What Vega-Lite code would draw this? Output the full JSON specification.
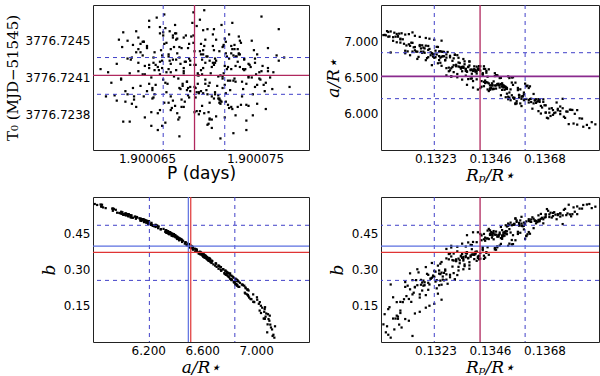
{
"$schema":"https://vega.github.io/schema/vega-lite/v6.json",
"autosize":{"type":"pad"},
"padding":{"left":4,"top":3,"right":0,"bottom":0},
"background":"white",
"config":{"view":{"stroke":"#222","strokeWidth":1},"axis":{"grid":false,"ticks":false,"tickSize":0,"domain":false,"labelFont":"DejaVu Sans","labelFontSize":12,"labelColor":"#000","labelPadding":3,"titleColor":"#000","titleFontWeight":"normal","titlePadding":3},"axisY":{"titlePadding":5}},
"datasets":{"s":[
{"P":1.9000704,"T":3776.72404,"k":0.13385,"a":6.609,"b":0.362},
{"P":1.9000657,"T":3776.72434,"k":0.13540,"a":6.293,"b":0.467},
{"P":1.9000740,"T":3776.72417,"k":0.13210,"a":6.894,"b":0.238},
{"P":1.9000684,"T":3776.72382,"k":0.13468,"a":6.420,"b":0.432},
{"P":1.9000714,"T":3776.72426,"k":0.13680,"a":6.164,"b":0.508},
{"P":1.9000637,"T":3776.72400,"k":0.13325,"a":6.548,"b":0.375},
{"P":1.9000722,"T":3776.72447,"k":0.13090,"a":6.981,"b":0.166},
{"P":1.9000697,"T":3776.72414,"k":0.13435,"a":6.620,"b":0.357},
{"P":1.9000672,"T":3776.72392,"k":0.13595,"a":6.244,"b":0.479},
{"P":1.9000757,"T":3776.72421,"k":0.13270,"a":6.793,"b":0.286},
{"P":1.9000650,"T":3776.72440,"k":0.13500,"a":6.390,"b":0.446},
{"P":1.9000710,"T":3776.72370,"k":0.13160,"a":6.856,"b":0.235},
{"P":1.9000689,"T":3776.72428,"k":0.13750,"a":5.995,"b":0.532},
{"P":1.9000730,"T":3776.72407,"k":0.13400,"a":6.580,"b":0.373},
{"P":1.9000622,"T":3776.72423,"k":0.13560,"a":6.216,"b":0.488},
{"P":1.9000719,"T":3776.72387,"k":0.13350,"a":6.635,"b":0.343},
{"P":1.9000677,"T":3776.72452,"k":0.13630,"a":6.207,"b":0.497},
{"P":1.9000744,"T":3776.72410,"k":0.13240,"a":6.818,"b":0.256},
{"P":1.9000664,"T":3776.72431,"k":0.13425,"a":6.450,"b":0.421},
{"P":1.9000700,"T":3776.72397,"k":0.13810,"a":5.999,"b":0.539},
{"P":1.9000644,"T":3776.72442,"k":0.13300,"a":6.627,"b":0.354},
{"P":1.9000707,"T":3776.72402,"k":0.13485,"a":6.532,"b":0.382},
{"P":1.9000725,"T":3776.72384,"k":0.13130,"a":6.807,"b":0.284},
{"P":1.9000680,"T":3776.72429,"k":0.13650,"a":6.200,"b":0.491},
{"P":1.9000767,"T":3776.72415,"k":0.13375,"a":6.721,"b":0.303},
{"P":1.9000667,"T":3776.72457,"k":0.13520,"a":6.380,"b":0.440},
{"P":1.9000694,"T":3776.72377,"k":0.13040,"a":7.063,"b":0.136},
{"P":1.9000736,"T":3776.72420,"k":0.13580,"a":6.259,"b":0.482},
{"P":1.9000632,"T":3776.72394,"k":0.13410,"a":6.609,"b":0.354},
{"P":1.9000712,"T":3776.72436,"k":0.13710,"a":5.969,"b":0.535},
{"P":1.9000687,"T":3776.72406,"k":0.13190,"a":6.841,"b":0.247},
{"P":1.9000750,"T":3776.72424,"k":0.13450,"a":6.430,"b":0.429},
{"P":1.9000654,"T":3776.72364,"k":0.13260,"a":6.786,"b":0.287},
{"P":1.9000702,"T":3776.72432,"k":0.13840,"a":5.933,"b":0.552},
{"P":1.9000674,"T":3776.72448,"k":0.13360,"a":6.526,"b":0.395},
{"P":1.9000727,"T":3776.72398,"k":0.13610,"a":6.379,"b":0.440},
{"P":1.9000607,"T":3776.72418,"k":0.13310,"a":6.574,"b":0.366},
{"P":1.9000717,"T":3776.72390,"k":0.13475,"a":6.446,"b":0.425},
{"P":1.9000692,"T":3776.72462,"k":0.13080,"a":7.064,"b":0.096},
{"P":1.9000754,"T":3776.72409,"k":0.13670,"a":6.003,"b":0.530},
{"P":1.9000662,"T":3776.72425,"k":0.13430,"a":6.532,"b":0.392},
{"P":1.9000732,"T":3776.72374,"k":0.13220,"a":6.670,"b":0.327},
{"P":1.9000682,"T":3776.72438,"k":0.13555,"a":6.503,"b":0.405},
{"P":1.9000720,"T":3776.72411,"k":0.13345,"a":6.586,"b":0.364},
{"P":1.9000640,"T":3776.72454,"k":0.13730,"a":6.017,"b":0.527},
{"P":1.9000698,"T":3776.72396,"k":0.13395,"a":6.614,"b":0.361},
{"P":1.9000762,"T":3776.72416,"k":0.13505,"a":6.255,"b":0.476},
{"P":1.9000670,"T":3776.72386,"k":0.13150,"a":6.920,"b":0.226},
{"P":1.9000706,"T":3776.72430,"k":0.13620,"a":6.355,"b":0.455},
{"P":1.9000647,"T":3776.72444,"k":0.13290,"a":6.636,"b":0.342},
{"P":1.9000742,"T":3776.72360,"k":0.13780,"a":6.029,"b":0.532},
{"P":1.9000690,"T":3776.72422,"k":0.13365,"a":6.399,"b":0.442},
{"P":1.9000722,"T":3776.72403,"k":0.13445,"a":6.566,"b":0.372},
{"P":1.9000627,"T":3776.72439,"k":0.13110,"a":6.834,"b":0.248},
{"P":1.9000710,"T":3776.72392,"k":0.13575,"a":6.326,"b":0.456},
{"P":1.9000659,"T":3776.72467,"k":0.13330,"a":6.772,"b":0.296},
{"P":1.9000734,"T":3776.72382,"k":0.13690,"a":6.116,"b":0.517},
{"P":1.9000701,"T":3776.72413,"k":0.13250,"a":6.795,"b":0.283},
{"P":1.9000677,"T":3776.72427,"k":0.13490,"a":6.410,"b":0.436},
{"P":1.9000782,"T":3776.72401,"k":0.13880,"a":5.884,"b":0.554},
{"P":1.9000716,"T":3776.72393,"k":0.13280,"a":6.774,"b":0.280},
{"P":1.9000652,"T":3776.72419,"k":0.13460,"a":6.391,"b":0.443},
{"P":1.9000747,"T":3776.72445,"k":0.13175,"a":6.856,"b":0.257},
{"P":1.9000674,"T":3776.72388,"k":0.13535,"a":6.200,"b":0.490},
{"P":1.9000695,"T":3776.72422,"k":0.13415,"a":6.622,"b":0.357},
{"P":1.9000634,"T":3776.72368,"k":0.13645,"a":6.191,"b":0.501},
{"P":1.9000728,"T":3776.72433,"k":0.13060,"a":7.056,"b":0.097},
{"P":1.9000704,"T":3776.72408,"k":0.13510,"a":6.400,"b":0.434},
{"P":1.9000665,"T":3776.72450,"k":0.13320,"a":6.675,"b":0.335},
{"P":1.9000739,"T":3776.72399,"k":0.13760,"a":6.206,"b":0.488},
{"P":1.9000684,"T":3776.72414,"k":0.13390,"a":6.451,"b":0.414},
{"P":1.9000760,"T":3776.72380,"k":0.13600,"a":6.267,"b":0.481},
{"P":1.9000642,"T":3776.72437,"k":0.13200,"a":6.767,"b":0.282},
{"P":1.9000708,"T":3776.72426,"k":0.13480,"a":6.559,"b":0.383},
{"P":1.9000680,"T":3776.72354,"k":0.13025,"a":7.088,"b":0.115},
{"P":1.9000724,"T":3776.72430,"k":0.13550,"a":6.255,"b":0.483},
{"P":1.9000617,"T":3776.72405,"k":0.13355,"a":6.683,"b":0.321},
{"P":1.9000696,"T":3776.72459,"k":0.13700,"a":5.937,"b":0.543},
{"P":1.9000752,"T":3776.72385,"k":0.13235,"a":6.780,"b":0.291},
{"P":1.9000668,"T":3776.72415,"k":0.13440,"a":6.458,"b":0.419},
{"P":1.9000699,"T":3776.72435,"k":0.13570,"a":6.173,"b":0.497},
{"P":1.9000630,"T":3776.72397,"k":0.13305,"a":6.730,"b":0.312},
{"P":1.9000718,"T":3776.72412,"k":0.13660,"a":6.176,"b":0.505},
{"P":1.9000737,"T":3776.72443,"k":0.13405,"a":6.650,"b":0.336},
{"P":1.9000678,"T":3776.72376,"k":0.13120,"a":6.860,"b":0.233},
{"P":1.9000711,"T":3776.72424,"k":0.13515,"a":6.390,"b":0.445},
{"P":1.9000656,"T":3776.72391,"k":0.13795,"a":6.054,"b":0.520},
{"P":1.9000772,"T":3776.72456,"k":0.13340,"a":6.628,"b":0.354},
{"P":1.9000687,"T":3776.72406,"k":0.13590,"a":6.106,"b":0.518},
{"P":1.9000726,"T":3776.72428,"k":0.13170,"a":6.948,"b":0.184},
{"P":1.9000648,"T":3776.72372,"k":0.13455,"a":6.418,"b":0.426},
{"P":1.9000703,"T":3776.72440,"k":0.13380,"a":6.600,"b":0.358},
{"P":1.9000670,"T":3776.72418,"k":0.13725,"a":6.008,"b":0.537},
{"P":1.9000748,"T":3776.72394,"k":0.13275,"a":6.741,"b":0.295},
{"P":1.9000624,"T":3776.72446,"k":0.13530,"a":6.342,"b":0.458},
{"P":1.9000715,"T":3776.72402,"k":0.13070,"a":7.063,"b":0.097},
{"P":1.9000693,"T":3776.72472,"k":0.13635,"a":6.070,"b":0.516},
{"P":1.9000662,"T":3776.72379,"k":0.13360,"a":6.616,"b":0.351},
{"P":1.9000732,"T":3776.72421,"k":0.13420,"a":6.655,"b":0.345},
{"P":1.9000682,"T":3776.72389,"k":0.13860,"a":5.846,"b":0.569},
{"P":1.9000720,"T":3776.72400,"k":0.13230,"a":6.772,"b":0.294},
{"P":1.9000676,"T":3776.72452,"k":0.13495,"a":6.400,"b":0.440},
{"P":1.9000755,"T":3776.72408,"k":0.13140,"a":6.978,"b":0.197},
{"P":1.9000646,"T":3776.72431,"k":0.13605,"a":6.200,"b":0.489},
{"P":1.9000701,"T":3776.72383,"k":0.13315,"a":6.812,"b":0.259},
{"P":1.9000729,"T":3776.72437,"k":0.13740,"a":6.048,"b":0.529},
{"P":1.9000664,"T":3776.72419,"k":0.13405,"a":6.585,"b":0.373},
{"P":1.9000707,"T":3776.72366,"k":0.13470,"a":6.338,"b":0.452},
{"P":1.9000635,"T":3776.72427,"k":0.13185,"a":6.857,"b":0.254},
{"P":1.9000764,"T":3776.72410,"k":0.13565,"a":6.429,"b":0.421},
{"P":1.9000689,"T":3776.72442,"k":0.13050,"a":6.845,"b":0.238},
{"P":1.9000713,"T":3776.72396,"k":0.13665,"a":6.164,"b":0.506},
{"P":1.9000652,"T":3776.72464,"k":0.13370,"a":6.648,"b":0.346},
{"P":1.9000742,"T":3776.72404,"k":0.13525,"a":6.370,"b":0.449},
{"P":1.9000672,"T":3776.72423,"k":0.13255,"a":6.773,"b":0.281},
{"P":1.9000698,"T":3776.72375,"k":0.13775,"a":6.031,"b":0.525},
{"P":1.9000735,"T":3776.72433,"k":0.13295,"a":6.599,"b":0.366},
{"P":1.9000614,"T":3776.72415,"k":0.13440,"a":6.618,"b":0.349},
{"P":1.9000723,"T":3776.72387,"k":0.13685,"a":6.117,"b":0.515},
{"P":1.9000685,"T":3776.72425,"k":0.13100,"a":7.027,"b":0.165},
{"P":1.9000680,"T":3776.72439,"k":0.13465,"a":6.354,"b":0.455},
{"P":1.9000738,"T":3776.72392,"k":0.13335,"a":6.645,"b":0.338},
{"P":1.9000660,"T":3776.72420,"k":0.13615,"a":6.387,"b":0.446},
{"P":1.9000710,"T":3776.72362,"k":0.13165,"a":6.784,"b":0.288},
{"P":1.9000777,"T":3776.72429,"k":0.13545,"a":6.336,"b":0.453},
{"P":1.9000642,"T":3776.72448,"k":0.13390,"a":6.361,"b":0.454},
{"P":1.9000694,"T":3776.72401,"k":0.13820,"a":6.050,"b":0.529},
{"P":1.9000721,"T":3776.72414,"k":0.13245,"a":6.696,"b":0.316},
{"P":1.9000673,"T":3776.72381,"k":0.13490,"a":6.521,"b":0.396},
{"P":1.9000749,"T":3776.72436,"k":0.13310,"a":6.669,"b":0.337},
{"P":1.9000657,"T":3776.72417,"k":0.13705,"a":6.015,"b":0.528},
{"P":1.9000702,"T":3776.72395,"k":0.13215,"a":6.847,"b":0.262},
{"P":1.9000628,"T":3776.72453,"k":0.13585,"a":6.142,"b":0.503},
{"P":1.9000731,"T":3776.72409,"k":0.13020,"a":7.085,"b":0.073},
{"P":1.9000690,"T":3776.72426,"k":0.13435,"a":6.655,"b":0.344},
{"P":1.9000717,"T":3776.72386,"k":0.13655,"a":6.168,"b":0.496},
{"P":1.9000647,"T":3776.72444,"k":0.13350,"a":6.650,"b":0.337},
{"P":1.9000758,"T":3776.72403,"k":0.13765,"a":5.959,"b":0.547},
{"P":1.9000666,"T":3776.72470,"k":0.13280,"a":6.819,"b":0.258},
{"P":1.9000705,"T":3776.72398,"k":0.13510,"a":6.329,"b":0.463},
{"P":1.9000727,"T":3776.72407,"k":0.13410,"a":6.624,"b":0.348},
{"P":1.9000670,"T":3776.72430,"k":0.13625,"a":6.203,"b":0.499},
{"P":1.9000696,"T":3776.72378,"k":0.13105,"a":6.965,"b":0.177},
{"P":1.9000745,"T":3776.72422,"k":0.13480,"a":6.390,"b":0.444},
{"P":1.9000652,"T":3776.72458,"k":0.13265,"a":6.794,"b":0.271},
{"P":1.9000712,"T":3776.72390,"k":0.13720,"a":6.050,"b":0.521},
{"P":1.9000684,"T":3776.72416,"k":0.13375,"a":6.721,"b":0.317},
{"P":1.9000766,"T":3776.72399,"k":0.13560,"a":6.206,"b":0.489},
{"P":1.9000637,"T":3776.72441,"k":0.13155,"a":6.858,"b":0.256},
{"P":1.9000722,"T":3776.72372,"k":0.13800,"a":6.052,"b":0.529},
{"P":1.9000700,"T":3776.72432,"k":0.13325,"a":6.503,"b":0.394},
{"P":1.9000662,"T":3776.72413,"k":0.13430,"a":6.560,"b":0.380},
{"P":1.9000737,"T":3776.72384,"k":0.13640,"a":6.143,"b":0.510},
{"P":1.9000678,"T":3776.72447,"k":0.13225,"a":6.788,"b":0.274},
{"P":1.9000708,"T":3776.72405,"k":0.13505,"a":6.410,"b":0.430},
{"P":1.9000632,"T":3776.72428,"k":0.13075,"a":7.101,"b":0.109},
{"P":1.9000730,"T":3776.72357,"k":0.13580,"a":6.254,"b":0.485},
{"P":1.9000688,"T":3776.72438,"k":0.13395,"a":6.609,"b":0.362},
{"P":1.9000716,"T":3776.72411,"k":0.13895,"a":5.854,"b":0.560},
{"P":1.9000656,"T":3776.72424,"k":0.13300,"a":6.517,"b":0.398},
{"P":1.9000674,"T":3776.72450,"k":0.13450,"a":6.510,"b":0.392},
{"P":1.9000752,"T":3776.72403,"k":0.13205,"a":6.935,"b":0.216},
{"P":1.9000644,"T":3776.72434,"k":0.13675,"a":6.086,"b":0.514},
{"P":1.9000706,"T":3776.72394,"k":0.13360,"a":6.591,"b":0.369},
{"P":1.9000720,"T":3776.72409,"k":0.13540,"a":6.223,"b":0.485},
{"P":1.9000666,"T":3776.72442,"k":0.13135,"a":6.980,"b":0.166},
{"P":1.9000742,"T":3776.72369,"k":0.13610,"a":6.204,"b":0.499},
{"P":1.9000686,"T":3776.72425,"k":0.13285,"a":6.852,"b":0.241},
{"P":1.9000728,"T":3776.72418,"k":0.13785,"a":5.857,"b":0.568},
{"P":1.9000622,"T":3776.72388,"k":0.13405,"a":6.555,"b":0.374},
{"P":1.9000712,"T":3776.72456,"k":0.13515,"a":6.362,"b":0.453},
{"P":1.9000680,"T":3776.72400,"k":0.13180,"a":6.944,"b":0.213},
{"P":1.9000770,"T":3776.72431,"k":0.13460,"a":6.351,"b":0.448},
{"P":1.9000654,"T":3776.72377,"k":0.13045,"a":7.066,"b":0.144},
{"P":1.9000698,"T":3776.72412,"k":0.13695,"a":5.944,"b":0.550},
{"P":1.9000734,"T":3776.72437,"k":0.13340,"a":6.623,"b":0.357},
{"P":1.9000668,"T":3776.72396,"k":0.13550,"a":6.430,"b":0.422},
{"P":1.9000703,"T":3776.72474,"k":0.13260,"a":6.661,"b":0.331},
{"P":1.9000640,"T":3776.72382,"k":0.13735,"a":6.155,"b":0.508},
{"P":1.9000725,"T":3776.72420,"k":0.13425,"a":6.373,"b":0.441},
{"P":1.9000695,"T":3776.72391,"k":0.13320,"a":6.660,"b":0.342},
{"P":1.9000664,"T":3776.72426,"k":0.13590,"a":6.206,"b":0.490},
{"P":1.9000732,"T":3776.72406,"k":0.13195,"a":6.939,"b":0.194},
{"P":1.9000632,"T":3776.72445,"k":0.13500,"a":6.362,"b":0.453},
{"P":1.9000714,"T":3776.72373,"k":0.13090,"a":7.036,"b":0.120},
{"P":1.9000700,"T":3776.72417,"k":0.13660,"a":6.036,"b":0.524},
{"P":1.9000650,"T":3776.72438,"k":0.13380,"a":6.609,"b":0.353},
{"P":1.9000759,"T":3776.72397,"k":0.13830,"a":5.937,"b":0.552},
{"P":1.9000676,"T":3776.72460,"k":0.13240,"a":6.923,"b":0.222},
{"P":1.9000718,"T":3776.72385,"k":0.13475,"a":6.341,"b":0.459},
{"P":1.9000658,"T":3776.72422,"k":0.13145,"a":6.916,"b":0.204},
{"P":1.9000747,"T":3776.72410,"k":0.13565,"a":6.144,"b":0.510},
{"P":1.9000691,"T":3776.72449,"k":0.13415,"a":6.607,"b":0.355},
{"P":1.9000620,"T":3776.72393,"k":0.13715,"a":6.077,"b":0.515},
{"P":1.9000723,"T":3776.72433,"k":0.13270,"a":6.853,"b":0.255},
{"P":1.9000706,"T":3776.72365,"k":0.13530,"a":6.277,"b":0.478},
{"P":1.9000672,"T":3776.72415,"k":0.13365,"a":6.579,"b":0.366},
{"P":1.9000740,"T":3776.72427,"k":0.13805,"a":5.865,"b":0.557},
{"P":1.9000683,"T":3776.72402,"k":0.13175,"a":6.901,"b":0.237},
{"P":1.9000711,"T":3776.72440,"k":0.13445,"a":6.591,"b":0.369},
{"P":1.9000648,"T":3776.72421,"k":0.13620,"a":6.190,"b":0.501},
{"P":1.9000729,"T":3776.72380,"k":0.13330,"a":6.707,"b":0.311},
{"P":1.9000702,"T":3776.72455,"k":0.13485,"a":6.390,"b":0.444},
{"P":1.9000667,"T":3776.72405,"k":0.13115,"a":6.942,"b":0.190},
{"P":1.9000750,"T":3776.72428,"k":0.13555,"a":6.223,"b":0.485},
{"P":1.9000638,"T":3776.72389,"k":0.13400,"a":6.590,"b":0.369},
{"P":1.9000709,"T":3776.72414,"k":0.13750,"a":6.035,"b":0.532},
{"P":1.9000693,"T":3776.72443,"k":0.13220,"a":6.835,"b":0.266},
{"P":1.9000655,"T":3776.72398,"k":0.13520,"a":6.370,"b":0.450},
{"P":1.9000735,"T":3776.72432,"k":0.13295,"a":6.779,"b":0.278},
{"P":1.9000718,"T":3776.72352,"k":0.13670,"a":6.108,"b":0.510},
{"P":1.9000681,"T":3776.72423,"k":0.13060,"a":7.006,"b":0.185},
{"P":1.9000626,"T":3776.72408,"k":0.13455,"a":6.613,"b":0.361},
{"P":1.9000726,"T":3776.72451,"k":0.13600,"a":6.187,"b":0.494},
{"P":1.9000685,"T":3776.72387,"k":0.13350,"a":6.635,"b":0.352},
{"P":1.9000762,"T":3776.72419,"k":0.13845,"a":5.821,"b":0.567},
{"P":1.9000663,"T":3776.72436,"k":0.13250,"a":6.860,"b":0.235},
{"P":1.9000713,"T":3776.72394,"k":0.13495,"a":6.394,"b":0.443},
{"P":1.9000677,"T":3776.72446,"k":0.13185,"a":6.912,"b":0.233},
{"P":1.9000744,"T":3776.72411,"k":0.13435,"a":6.440,"b":0.425},
{"P":1.9000708,"T":3776.72386,"k":0.13370,"a":6.643,"b":0.348},
{"P":1.9000642,"T":3776.72424,"k":0.13535,"a":6.235,"b":0.481},
{"P":1.9000721,"T":3776.72441,"k":0.13150,"a":6.875,"b":0.228},
{"P":1.9000688,"T":3776.72400,"k":0.13625,"a":6.378,"b":0.448},
{"P":1.9000756,"T":3776.72416,"k":0.13280,"a":6.629,"b":0.346},
{"P":1.9000660,"T":3776.72376,"k":0.13760,"a":6.076,"b":0.524},
{"P":1.9000733,"T":3776.72430,"k":0.13420,"a":6.355,"b":0.447},
{"P":1.9000669,"T":3776.72404,"k":0.13205,"a":6.880,"b":0.245},
{"P":1.9000699,"T":3776.72465,"k":0.13580,"a":6.259,"b":0.483},
{"P":1.9000612,"T":3776.72392,"k":0.13035,"a":7.140,"b":0.065},
{"P":1.9000741,"T":3776.72418,"k":0.13510,"a":6.420,"b":0.427},
{"P":1.9000704,"T":3776.72446,"k":0.13385,"a":6.552,"b":0.384},
{"P":1.9000650,"T":3776.72397,"k":0.13690,"a":6.016,"b":0.527},
{"P":1.9000717,"T":3776.72435,"k":0.13315,"a":6.817,"b":0.259},
{"P":1.9000679,"T":3776.72370,"k":0.13470,"a":6.388,"b":0.445},
{"P":1.9000751,"T":3776.72413,"k":0.13125,"a":6.958,"b":0.178},
{"P":1.9000636,"T":3776.72429,"k":0.13645,"a":6.181,"b":0.503},
{"P":1.9000728,"T":3776.72382,"k":0.13255,"a":6.863,"b":0.254},
{"P":1.9000694,"T":3776.72422,"k":0.13870,"a":5.803,"b":0.571},
{"P":1.9000665,"T":3776.72453,"k":0.13345,"a":6.646,"b":0.348},
{"P":1.9000679,"T":3776.72409,"k":0.13065,"a":7.118,"b":0.052},
{"P":1.9000713,"T":3776.72428,"k":0.13110,"a":7.092,"b":0.095},
{"P":1.9000655,"T":3776.72390,"k":0.13150,"a":7.075,"b":0.118},
{"P":1.9000731,"T":3776.72437,"k":0.13040,"a":7.128,"b":0.030},
{"P":1.9000690,"T":3776.72401,"k":0.13195,"a":7.045,"b":0.142},
{"P":1.9000702,"T":3776.72419,"k":0.13085,"a":7.105,"b":0.072},
{"P":1.9000646,"T":3776.72444,"k":0.13230,"a":7.020,"b":0.158},
{"P":1.9000744,"T":3776.72383,"k":0.13125,"a":7.098,"b":0.088},
{"P":1.9000671,"T":3776.72426,"k":0.13050,"a":7.135,"b":0.018},
{"P":1.9000723,"T":3776.72395,"k":0.13170,"a":7.060,"b":0.125},
{"P":1.9000686,"T":3776.72450,"k":0.13095,"a":7.110,"b":0.060},
{"P":1.9000708,"T":3776.72371,"k":0.13260,"a":7.008,"b":0.175},
{"P":1.9000661,"T":3776.72417,"k":0.13030,"a":7.082,"b":0.040},
{"P":1.9000736,"T":3776.72432,"k":0.13140,"a":7.122,"b":0.025},
{"P":1.9000697,"T":3776.72404,"k":0.13210,"a":7.035,"b":0.150},
{"P":1.9000675,"T":3776.72439,"k":0.13080,"a":7.070,"b":0.105},
{"P":1.9000712,"T":3776.72422,"k":0.13360,"a":6.621,"b":0.357},
{"P":1.9000647,"T":3776.72392,"k":0.13560,"a":6.221,"b":0.485},
{"P":1.9000700,"T":3776.72442,"k":0.13235,"a":6.870,"b":0.250},
{"P":1.9000725,"T":3776.72407,"k":0.13445,"a":6.436,"b":0.428},
{"P":1.9000674,"T":3776.72427,"k":0.13640,"a":6.273,"b":0.471},
{"P":1.9000742,"T":3776.72384,"k":0.13300,"a":6.512,"b":0.391},
{"P":1.9000662,"T":3776.72452,"k":0.13495,"a":6.414,"b":0.436},
{"P":1.9000695,"T":3776.72400,"k":0.13170,"a":6.933,"b":0.197},
{"P":1.9000754,"T":3776.72415,"k":0.13580,"a":6.224,"b":0.493},
{"P":1.9000640,"T":3776.72434,"k":0.13390,"a":6.590,"b":0.362},
{"P":1.9000707,"T":3776.72377,"k":0.13720,"a":5.985,"b":0.534},
{"P":1.9000684,"T":3776.72419,"k":0.13330,"a":6.652,"b":0.345},
{"P":1.9000732,"T":3776.72430,"k":0.13465,"a":6.390,"b":0.445},
{"P":1.9000667,"T":3776.72367,"k":0.13090,"a":7.026,"b":0.130},
{"P":1.9000762,"T":3776.72438,"k":0.13530,"a":6.357,"b":0.446},
{"P":1.9000654,"T":3776.72410,"k":0.13405,"a":6.475,"b":0.413},
{"P":1.9000704,"T":3776.72424,"k":0.13610,"a":6.384,"b":0.438},
{"P":1.9000630,"T":3776.72387,"k":0.13255,"a":6.703,"b":0.324},
{"P":1.9000719,"T":3776.72460,"k":0.13480,"a":6.519,"b":0.389},
{"P":1.9000690,"T":3776.72397,"k":0.13770,"a":5.943,"b":0.551},
{"P":1.9000677,"T":3776.72417,"k":0.13345,"a":6.471,"b":0.407},
{"P":1.9000736,"T":3776.72445,"k":0.13430,"a":6.547,"b":0.386},
{"P":1.9000657,"T":3776.72394,"k":0.13205,"a":6.780,"b":0.278},
{"P":1.9000697,"T":3776.72412,"k":0.13550,"a":6.500,"b":0.404},
{"P":1.9000748,"T":3776.72374,"k":0.13380,"a":6.484,"b":0.402},
{"P":1.9000670,"T":3776.72432,"k":0.13665,"a":6.194,"b":0.500},
{"P":1.9000710,"T":3776.72420,"k":0.13280,"a":6.529,"b":0.385},
{"P":1.9000644,"T":3776.72402,"k":0.13505,"a":6.495,"b":0.406},
{"P":1.9000728,"T":3776.72440,"k":0.13130,"a":6.937,"b":0.218},
{"P":1.9000682,"T":3776.72382,"k":0.13590,"a":6.236,"b":0.481},
{"P":1.9000772,"T":3776.72426,"k":0.13415,"a":6.657,"b":0.342},
{"P":1.9000664,"T":3776.72364,"k":0.13515,"a":6.390,"b":0.438},
{"P":1.9000702,"T":3776.72436,"k":0.13320,"a":6.655,"b":0.335},
{"P":1.9000634,"T":3776.72414,"k":0.13630,"a":6.162,"b":0.507},
{"P":1.9000716,"T":3776.72390,"k":0.13190,"a":6.901,"b":0.235},
{"P":1.9000693,"T":3776.72450,"k":0.13455,"a":6.313,"b":0.468},
{"P":1.9000652,"T":3776.72404,"k":0.13575,"a":6.356,"b":0.447},
{"P":1.9000740,"T":3776.72428,"k":0.13365,"a":6.584,"b":0.372},
{"P":1.9000672,"T":3776.72379,"k":0.13690,"a":6.016,"b":0.528},
{"P":1.9000724,"T":3776.72418,"k":0.13245,"a":6.921,"b":0.200},
{"P":1.9000687,"T":3776.72398,"k":0.13440,"a":6.423,"b":0.432},
{"P":1.9000720,"T":3776.72439,"k":0.13295,"a":6.799,"b":0.268},
{"P":1.9000626,"T":3776.72409,"k":0.13525,"a":6.343,"b":0.459},
{"P":1.9000706,"T":3776.72456,"k":0.13160,"a":6.756,"b":0.301},
{"P":1.9000666,"T":3776.72386,"k":0.13600,"a":6.292,"b":0.466},
{"P":1.9000744,"T":3776.72423,"k":0.13350,"a":6.755,"b":0.301},
{"P":1.9000680,"T":3776.72372,"k":0.13475,"a":6.346,"b":0.450},
{"P":1.9000730,"T":3776.72431,"k":0.13225,"a":6.818,"b":0.274},
{"P":1.9000648,"T":3776.72413,"k":0.13545,"a":6.186,"b":0.494},
{"P":1.9000698,"T":3776.72395,"k":0.13400,"a":6.602,"b":0.365},
{"P":1.9000714,"T":3776.72446,"k":0.13740,"a":6.068,"b":0.525},
{"P":1.9000658,"T":3776.72403,"k":0.13310,"a":6.764,"b":0.285},
{"P":1.9000756,"T":3776.72468,"k":0.13485,"a":6.347,"b":0.457},
{"P":1.9000676,"T":3776.72383,"k":0.13075,"a":6.986,"b":0.165},
{"P":1.9000722,"T":3776.72421,"k":0.13565,"a":6.134,"b":0.512},
{"P":1.9000638,"T":3776.72392,"k":0.13375,"a":6.666,"b":0.330},
{"P":1.9000694,"T":3776.72435,"k":0.13650,"a":6.150,"b":0.501},
{"P":1.9000738,"T":3776.72406,"k":0.13265,"a":6.854,"b":0.258},
{"P":1.9000668,"T":3776.72443,"k":0.13510,"a":6.374,"b":0.441},
{"P":1.9000708,"T":3776.72370,"k":0.13820,"a":5.850,"b":0.561},
{"P":1.9000656,"T":3776.72429,"k":0.13335,"a":6.700,"b":0.326},
{"P":1.9000750,"T":3776.72401,"k":0.13450,"a":6.335,"b":0.461},
{"P":1.9000684,"T":3776.72448,"k":0.13215,"a":6.807,"b":0.262},
{"P":1.9000718,"T":3776.72388,"k":0.13535,"a":6.515,"b":0.398},
{"P":1.9000642,"T":3776.72416,"k":0.13385,"a":6.487,"b":0.401},
{"P":1.9000703,"T":3776.72376,"k":0.13680,"a":6.199,"b":0.491},
{"P":1.9000734,"T":3776.72425,"k":0.13290,"a":6.586,"b":0.364},
{"P":1.9000672,"T":3776.72437,"k":0.13490,"a":6.531,"b":0.392},
{"P":1.9000696,"T":3776.72396,"k":0.13140,"a":6.858,"b":0.256},
{"P":1.9000662,"T":3776.72458,"k":0.13570,"a":6.143,"b":0.503},
{"P":1.9000760,"T":3776.72405,"k":0.13420,"a":6.595,"b":0.368},
{"P":1.9000678,"T":3776.72433,"k":0.13520,"a":6.330,"b":0.455},
{"P":1.9000726,"T":3776.72381,"k":0.13325,"a":6.808,"b":0.277},
{"P":1.9000646,"T":3776.72413,"k":0.13620,"a":6.155,"b":0.508},
{"P":1.9000711,"T":3776.72451,"k":0.13180,"a":6.839,"b":0.246},
{"P":1.9000688,"T":3776.72393,"k":0.13460,"a":6.331,"b":0.462},
{"P":1.9000746,"T":3776.72420,"k":0.13585,"a":6.337,"b":0.452},
{"P":1.9000660,"T":3776.72360,"k":0.13355,"a":6.723,"b":0.314},
{"P":1.9000701,"T":3776.72427,"k":0.13705,"a":6.070,"b":0.517},
{"P":1.9000731,"T":3776.72441,"k":0.13230,"a":6.827,"b":0.270},
{"P":1.9000665,"T":3776.72408,"k":0.13435,"a":6.380,"b":0.447},
{"P":1.9000705,"T":3776.72430,"k":0.13275,"a":6.736,"b":0.300},
{"P":1.9000636,"T":3776.72385,"k":0.13540,"a":6.493,"b":0.407},
{"P":1.9000723,"T":3776.72444,"k":0.13195,"a":6.739,"b":0.310},
{"P":1.9000681,"T":3776.72399,"k":0.13595,"a":6.239,"b":0.481},
{"P":1.9000739,"T":3776.72418,"k":0.13395,"a":6.654,"b":0.343},
{"P":1.9000671,"T":3776.72454,"k":0.13470,"a":6.400,"b":0.440},
{"P":1.9000717,"T":3776.72389,"k":0.13250,"a":6.740,"b":0.296},
{"P":1.9000652,"T":3776.72422,"k":0.13555,"a":6.398,"b":0.442},
{"P":1.9000699,"T":3776.72378,"k":0.13410,"a":6.334,"b":0.454},
{"P":1.9000752,"T":3776.72432,"k":0.13750,"a":6.100,"b":0.519},
{"P":1.9000675,"T":3776.72411,"k":0.13305,"a":6.645,"b":0.339},
{"P":1.9000729,"T":3776.72462,"k":0.13500,"a":6.492,"b":0.399},
{"P":1.9000689,"T":3776.72391,"k":0.13110,"a":6.869,"b":0.228},
{"P":1.9000713,"T":3776.72424,"k":0.13605,"a":6.415,"b":0.427},
{"P":1.9000628,"T":3776.72368,"k":0.13370,"a":6.478,"b":0.412},
{"P":1.9000721,"T":3776.72440,"k":0.13660,"a":6.201,"b":0.499},
{"P":1.9000683,"T":3776.72404,"k":0.13260,"a":6.856,"b":0.237},
{"P":1.9000735,"T":3776.72449,"k":0.13525,"a":6.228,"b":0.483},
{"P":1.9000655,"T":3776.72400,"k":0.13790,"a":6.056,"b":0.528}
]},
"columns":2,
"spacing":{"row":47,"column":72},
"bounds":"flush",
"concat":[
{"width":216,"height":145,"layer":[
 {"data":{"name":"s"},"mark":{"type":"square","size":5,"color":"#000","opacity":1,"clip":true},
  "encoding":{
   "x":{"field":"P","type":"quantitative","scale":{"domain":[1.90006,1.90008],"nice":false,"zero":false},"axis":{"values":[1.900065,1.900075],"format":".6f","title":"P (days)","titleFont":"DejaVu Sans","titleFontSize":17,"titlePadding":1}},
   "y":{"field":"T","type":"quantitative","scale":{"domain":[3776.72341,3776.72479],"nice":false,"zero":false},"axis":{"values":[3776.72375,3776.7241,3776.72445],"labelExpr":"datum.value > 3776.7244 ? '3776.7245' : (datum.value > 3776.724 ? '3776.7241' : '3776.7238')","title":"T₀ (MJD−51545)","titleFont":"DejaVu Serif","titleFontSize":15}}}},
 {"data":{"values":[{"v":1.9000665},{"v":1.9000722}]},"mark":{"type":"rule","color":"#4040c8","strokeDash":[4,4],"strokeWidth":1},"encoding":{"x":{"field":"v","type":"quantitative","scale":{"domain":[1.90006,1.90008],"nice":false,"zero":false}}}},
 {"data":{"values":[{"v":3776.72429},{"v":3776.72394}]},"mark":{"type":"rule","color":"#4040c8","strokeDash":[4,4],"strokeWidth":1},"encoding":{"y":{"field":"v","type":"quantitative","scale":{"domain":[3776.72341,3776.72479],"nice":false,"zero":false}}}},
 {"data":{"values":[{"v":1.9000694}]},"mark":{"type":"rule","color":"#b0285e","strokeWidth":1.3},"encoding":{"x":{"field":"v","type":"quantitative","scale":{"domain":[1.90006,1.90008],"nice":false,"zero":false}}}},
 {"data":{"values":[{"v":3776.72412}]},"mark":{"type":"rule","color":"#b0285e","strokeWidth":1.3},"encoding":{"y":{"field":"v","type":"quantitative","scale":{"domain":[3776.72341,3776.72479],"nice":false,"zero":false}}}}
]},
{"width":218,"height":145,"layer":[
 {"data":{"name":"s"},"mark":{"type":"square","size":5,"color":"#000","opacity":1,"clip":true},
  "encoding":{
   "x":{"field":"k","type":"quantitative","scale":{"domain":[0.1301,0.1391],"nice":false,"zero":false},"axis":{"values":[0.13235,0.1346,0.13685],"labelExpr":"datum.value < 0.133 ? '0.1323' : (datum.value < 0.1355 ? '0.1346' : '0.1368')","title":"Rₚ/R⋆","titleFont":"DejaVu Serif","titleFontStyle":"italic","titleFontSize":17}},
   "y":{"field":"a","type":"quantitative","scale":{"domain":[5.5,7.5],"nice":false,"zero":false},"axis":{"values":[6,6.5,7],"format":".3f","title":"a/R⋆","titleFont":"DejaVu Serif","titleFontStyle":"italic","titleFontSize":17,"titlePadding":1}}}},
 {"data":{"values":[{"v":0.1323},{"v":0.13605}]},"mark":{"type":"rule","color":"#4040c8","strokeDash":[4,4],"strokeWidth":1},"encoding":{"x":{"field":"v","type":"quantitative","scale":{"domain":[0.1301,0.1391],"nice":false,"zero":false}}}},
 {"data":{"values":[{"v":6.842},{"v":6.208}]},"mark":{"type":"rule","color":"#4040c8","strokeDash":[4,4],"strokeWidth":1},"encoding":{"y":{"field":"v","type":"quantitative","scale":{"domain":[5.5,7.5],"nice":false,"zero":false}}}},
 {"data":{"values":[{"v":0.13419}]},"mark":{"type":"rule","color":"#b0285e","strokeWidth":1.3},"encoding":{"x":{"field":"v","type":"quantitative","scale":{"domain":[0.1301,0.1391],"nice":false,"zero":false}}}},
 {"data":{"values":[{"v":6.515}]},"mark":{"type":"rule","color":"#8a2b8e","strokeWidth":1.6},"encoding":{"y":{"field":"v","type":"quantitative","scale":{"domain":[5.5,7.5],"nice":false,"zero":false}}}}
]},
{"width":216,"height":145,"layer":[
 {"data":{"name":"s"},"mark":{"type":"square","size":5,"color":"#000","opacity":1,"clip":true},
  "encoding":{
   "x":{"field":"a","type":"quantitative","scale":{"domain":[5.79,7.392],"nice":false,"zero":false},"axis":{"values":[6.2,6.6,7.0],"format":".3f","title":"a/R⋆","titleFont":"DejaVu Serif","titleFontStyle":"italic","titleFontSize":17}},
   "y":{"field":"b","type":"quantitative","scale":{"domain":[0,0.6],"nice":false,"zero":false},"axis":{"values":[0.15,0.3,0.45],"format":".2f","title":"b","titleFont":"DejaVu Serif","titleFontStyle":"italic","titleFontSize":17}}}},
 {"data":{"values":[{"v":6.208},{"v":6.842}]},"mark":{"type":"rule","color":"#4040c8","strokeDash":[4,4],"strokeWidth":1},"encoding":{"x":{"field":"v","type":"quantitative","scale":{"domain":[5.79,7.392],"nice":false,"zero":false}}}},
 {"data":{"values":[{"v":0.483},{"v":0.255}]},"mark":{"type":"rule","color":"#4040c8","strokeDash":[4,4],"strokeWidth":1},"encoding":{"y":{"field":"v","type":"quantitative","scale":{"domain":[0,0.6],"nice":false,"zero":false}}}},
 {"data":{"values":[{"v":6.497}]},"mark":{"type":"rule","color":"#5b6fe0","strokeWidth":1.2},"encoding":{"x":{"field":"v","type":"quantitative","scale":{"domain":[5.79,7.392],"nice":false,"zero":false}}}},
 {"data":{"values":[{"v":6.515}]},"mark":{"type":"rule","color":"#e03434","strokeWidth":1.2},"encoding":{"x":{"field":"v","type":"quantitative","scale":{"domain":[5.79,7.392],"nice":false,"zero":false}}}},
 {"data":{"values":[{"v":0.397}]},"mark":{"type":"rule","color":"#5b6fe0","strokeWidth":1.2},"encoding":{"y":{"field":"v","type":"quantitative","scale":{"domain":[0,0.6],"nice":false,"zero":false}}}},
 {"data":{"values":[{"v":0.371}]},"mark":{"type":"rule","color":"#e03434","strokeWidth":1.2},"encoding":{"y":{"field":"v","type":"quantitative","scale":{"domain":[0,0.6],"nice":false,"zero":false}}}}
]},
{"width":218,"height":145,"layer":[
 {"data":{"name":"s"},"mark":{"type":"square","size":5,"color":"#000","opacity":1,"clip":true},
  "encoding":{
   "x":{"field":"k","type":"quantitative","scale":{"domain":[0.1301,0.1391],"nice":false,"zero":false},"axis":{"values":[0.13235,0.1346,0.13685],"labelExpr":"datum.value < 0.133 ? '0.1323' : (datum.value < 0.1355 ? '0.1346' : '0.1368')","title":"Rₚ/R⋆","titleFont":"DejaVu Serif","titleFontStyle":"italic","titleFontSize":17}},
   "y":{"field":"b","type":"quantitative","scale":{"domain":[0,0.6],"nice":false,"zero":false},"axis":{"values":[0.15,0.3,0.45],"format":".2f","title":"b","titleFont":"DejaVu Serif","titleFontStyle":"italic","titleFontSize":17}}}},
 {"data":{"values":[{"v":0.1323},{"v":0.13605}]},"mark":{"type":"rule","color":"#4040c8","strokeDash":[4,4],"strokeWidth":1},"encoding":{"x":{"field":"v","type":"quantitative","scale":{"domain":[0.1301,0.1391],"nice":false,"zero":false}}}},
 {"data":{"values":[{"v":0.483},{"v":0.255}]},"mark":{"type":"rule","color":"#4040c8","strokeDash":[4,4],"strokeWidth":1},"encoding":{"y":{"field":"v","type":"quantitative","scale":{"domain":[0,0.6],"nice":false,"zero":false}}}},
 {"data":{"values":[{"v":0.397}]},"mark":{"type":"rule","color":"#5b6fe0","strokeWidth":1.2},"encoding":{"y":{"field":"v","type":"quantitative","scale":{"domain":[0,0.6],"nice":false,"zero":false}}}},
 {"data":{"values":[{"v":0.371}]},"mark":{"type":"rule","color":"#e03434","strokeWidth":1.2},"encoding":{"y":{"field":"v","type":"quantitative","scale":{"domain":[0,0.6],"nice":false,"zero":false}}}},
 {"data":{"values":[{"v":0.13419}]},"mark":{"type":"rule","color":"#b0285e","strokeWidth":1.3},"encoding":{"x":{"field":"v","type":"quantitative","scale":{"domain":[0.1301,0.1391],"nice":false,"zero":false}}}}
]}
]
}
